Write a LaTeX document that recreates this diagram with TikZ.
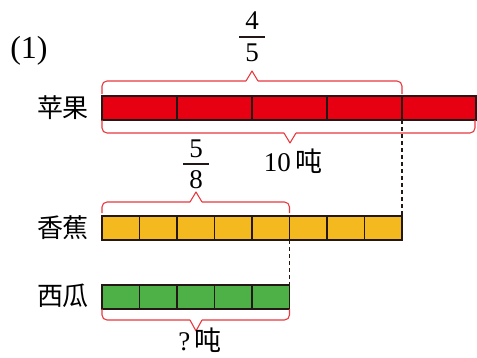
\documentclass[tikz,border=0pt]{standalone}
\usepackage{fontspec}
\setmainfont{Liberation Serif}
\newfontfamily\cjk{Noto Sans CJK SC}
\definecolor{applered}{HTML}{E60012}
\definecolor{bananay}{HTML}{F3B91E}
\definecolor{melong}{HTML}{4DB147}
\definecolor{bracered}{HTML}{E8383D}
\definecolor{ink}{HTML}{231815}
\newcommand\bracketshape[6]{%
  % #1 x1, #2 x2, #3 xtip, #4 yline, #5 yend, #6 ytip
  \draw[bracestyle,rounded corners=5pt] (#1,#5) -- (#1,#4) -- (#3-6,#4);
  \draw[bracestyle] (#3-6,#4) -- (#3,#6) -- (#3+6,#4);
  \draw[bracestyle,rounded corners=5pt] (#3+6,#4) -- (#2,#4) -- (#2,#5);
}
\begin{document}
\begin{tikzpicture}[x=1pt,y=-1pt,
  barstyle/.style={draw=ink,line width=1.6pt},
  divstyle/.style={draw=ink,line width=1.6pt},
  bracestyle/.style={draw=bracered,line width=1.1pt,line join=round},
  lbl/.style={font=\cjk\fontsize{26}{26}\selectfont,inner sep=0pt},
  num/.style={font=\fontsize{27}{27}\selectfont,inner sep=0pt},
  dashline/.style={draw=ink,line width=1.1pt,dash pattern=on 4pt off 3pt}]
\useasboundingbox (0,0) rectangle (477,357);

% labels
\node[num,font=\fontsize{32}{32}\selectfont] (n1) at (29,51) {(1)};
\node[lbl] (lapple) at (63,108) {苹果};
\node[lbl] (lbanana) at (63,228) {香蕉};
\node[lbl] (lmelon) at (63,296) {西瓜};

% apple bar
\draw[barstyle,fill=applered] (102,96) rectangle (476,120);
\foreach \x in {177,252,327,402} \draw[divstyle] (\x,96) -- (\x,120);
\coordinate (appcut) at (402,120);

% banana bar
\draw[barstyle,fill=bananay] (102,216) rectangle (402,240);
\foreach \i in {1,...,7} \draw[divstyle] (102+\i*37.5,216) -- (102+\i*37.5,240);
\coordinate (bantop) at (402,216);
\coordinate (bancut) at (289.5,240);

% melon bar
\draw[barstyle,fill=melong] (102,285) rectangle (289.5,309);
\foreach \i in {1,...,4} \draw[divstyle] (102+\i*37.5,285) -- (102+\i*37.5,309);
\coordinate (meltop) at (289.5,285);

% dashed lines
\draw[dashline] (appcut) -- (bantop);
\draw[dashline] (bancut) -- (meltop);

% braces
\bracketshape{102}{402}{252}{81}{94}{71}
\bracketshape{102}{475}{290}{133}{120}{143}
\bracketshape{102}{289.5}{196}{202}{213}{192}
\bracketshape{102}{289.5}{196}{320}{309}{331}

% fractions
\node[num] (f4) at (252,21) {4};
\node[num] (f5) at (252,53) {5};
\draw[ink,line width=1.4pt] (239,37) -- (265,37);
\node[num] (g5) at (196,149) {5};
\node[num] (g8) at (196,180) {8};
\draw[ink,line width=1.4pt] (183,164) -- (209,164);

% amounts
\node[num,anchor=base] (ten) at (293,171) {10\,{\cjk 吨}};
\node[num,anchor=base] (q) at (200,350) {?\,{\cjk 吨}};
\end{tikzpicture}
\end{document}
